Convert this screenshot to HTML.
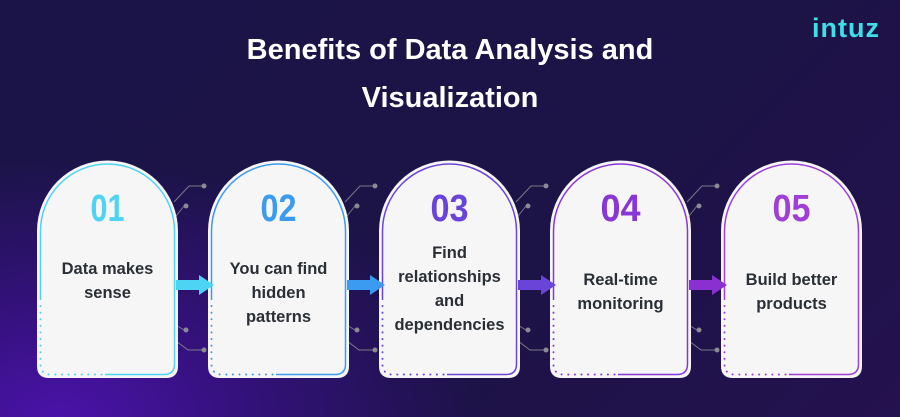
<!DOCTYPE html>
<html><head><meta charset="utf-8"><style>
html,body{margin:0;padding:0;width:900px;height:417px;overflow:hidden}
body{background:radial-gradient(ellipse 420px 260px at 60px 417px,#4a12a8 0%,#33117a 45%,rgba(28,20,72,0) 100%),linear-gradient(135deg,#1b1448 0%,#1c1346 60%,#24114f 100%)}
svg{display:block}
text{font-family:"Liberation Sans",sans-serif}
</style></head><body>
<svg width="900" height="417" viewBox="0 0 900 417">
<text x="450" y="59" fill="#fff" font-size="29" font-weight="bold" text-anchor="middle">Benefits of Data Analysis and</text>
<text x="450" y="107" fill="#fff" font-size="29" font-weight="bold" text-anchor="middle">Visualization</text>
<text x="846" y="37" fill="#3de0e8" font-size="27" text-anchor="middle" letter-spacing="1" font-weight="bold">intuz</text>

<g stroke="#7a7a86" stroke-width="1" fill="none">
<path d="M174 202 L189 186 H204 M176 216 L184 206 M174 324 L184 330 M176 341 L188 350 H204"/>
<path d="M345 202 L360 186 H375 M347 216 L355 206 M345 324 L355 330 M347 341 L359 350 H375"/>
<path d="M516 202 L531 186 H546 M518 216 L526 206 M516 324 L526 330 M518 341 L530 350 H546"/>
<path d="M687 202 L702 186 H717 M689 216 L697 206 M687 324 L697 330 M689 341 L701 350 H717"/>
</g>
<g fill="#8a8a94">
<circle cx="204" cy="186" r="2.5"/><circle cx="186" cy="206" r="2.5"/><circle cx="186" cy="330" r="2.5"/><circle cx="204" cy="350" r="2.5"/>
<circle cx="375" cy="186" r="2.5"/><circle cx="357" cy="206" r="2.5"/><circle cx="357" cy="330" r="2.5"/><circle cx="375" cy="350" r="2.5"/>
<circle cx="546" cy="186" r="2.5"/><circle cx="528" cy="206" r="2.5"/><circle cx="528" cy="330" r="2.5"/><circle cx="546" cy="350" r="2.5"/>
<circle cx="717" cy="186" r="2.5"/><circle cx="699" cy="206" r="2.5"/><circle cx="699" cy="330" r="2.5"/><circle cx="717" cy="350" r="2.5"/>
</g>

<g>
<path d="M37 231 A70.5 70.5 0 0 1 178 231 V366 Q178 378 166 378 H49 Q37 378 37 366 Z" fill="#f6f6f6"/>
<path d="M40.5 300 V231 A67 67 0 0 1 174.5 231 V364 Q174.5 374.5 164 374.5 H105" fill="none" stroke="#4dd4f5" stroke-width="1.5"/>
<path d="M40.5 306 V364 Q40.5 374.5 51 374.5 H104" fill="none" stroke="#4dd4f5" stroke-width="2" stroke-dasharray="0.1 6.5" stroke-linecap="round"/>
<text x="107.5" y="221" fill="#4dd4f5" font-size="38" font-weight="bold" text-anchor="middle" textLength="34" lengthAdjust="spacingAndGlyphs">01</text>
<text fill="#2a2f36" font-size="16.5" font-weight="bold" text-anchor="middle"><tspan x="107.5" y="274">Data makes</tspan><tspan x="107.5" y="298">sense</tspan></text>
</g>
<g>
<path d="M208 231 A70.5 70.5 0 0 1 349 231 V366 Q349 378 337 378 H220 Q208 378 208 366 Z" fill="#f6f6f6"/>
<path d="M211.5 300 V231 A67 67 0 0 1 345.5 231 V364 Q345.5 374.5 335 374.5 H276" fill="none" stroke="#3a9bf0" stroke-width="1.5"/>
<path d="M211.5 306 V364 Q211.5 374.5 222 374.5 H275" fill="none" stroke="#3a9bf0" stroke-width="2" stroke-dasharray="0.1 6.5" stroke-linecap="round"/>
<text x="278.5" y="221" fill="#3a9bf0" font-size="38" font-weight="bold" text-anchor="middle" textLength="36" lengthAdjust="spacingAndGlyphs">02</text>
<text fill="#2a2f36" font-size="16.5" font-weight="bold" text-anchor="middle"><tspan x="278.5" y="274">You can find</tspan><tspan x="278.5" y="298">hidden</tspan><tspan x="278.5" y="322">patterns</tspan></text>
</g>
<g>
<path d="M379 231 A70.5 70.5 0 0 1 520 231 V366 Q520 378 508 378 H391 Q379 378 379 366 Z" fill="#f6f6f6"/>
<path d="M382.5 300 V231 A67 67 0 0 1 516.5 231 V364 Q516.5 374.5 506 374.5 H447" fill="none" stroke="#6a44d8" stroke-width="1.5"/>
<path d="M382.5 306 V364 Q382.5 374.5 393 374.5 H446" fill="none" stroke="#6a44d8" stroke-width="2" stroke-dasharray="0.1 6.5" stroke-linecap="round"/>
<text x="449.5" y="221" fill="#6a44d8" font-size="38" font-weight="bold" text-anchor="middle" textLength="38" lengthAdjust="spacingAndGlyphs">03</text>
<text fill="#2a2f36" font-size="16.5" font-weight="bold" text-anchor="middle"><tspan x="449.5" y="258">Find</tspan><tspan x="449.5" y="282">relationships</tspan><tspan x="449.5" y="306">and</tspan><tspan x="449.5" y="330">dependencies</tspan></text>
</g>
<g>
<path d="M550 231 A70.5 70.5 0 0 1 691 231 V366 Q691 378 679 378 H562 Q550 378 550 366 Z" fill="#f6f6f6"/>
<path d="M553.5 300 V231 A67 67 0 0 1 687.5 231 V364 Q687.5 374.5 677 374.5 H618" fill="none" stroke="#8a35d8" stroke-width="1.5"/>
<path d="M553.5 306 V364 Q553.5 374.5 564 374.5 H617" fill="none" stroke="#8a35d8" stroke-width="2" stroke-dasharray="0.1 6.5" stroke-linecap="round"/>
<text x="620.5" y="221" fill="#8a35d8" font-size="38" font-weight="bold" text-anchor="middle" textLength="40" lengthAdjust="spacingAndGlyphs">04</text>
<text fill="#2a2f36" font-size="16.5" font-weight="bold" text-anchor="middle"><tspan x="620.5" y="285">Real-time</tspan><tspan x="620.5" y="309">monitoring</tspan></text>
</g>
<g>
<path d="M721 231 A70.5 70.5 0 0 1 862 231 V366 Q862 378 850 378 H733 Q721 378 721 366 Z" fill="#f6f6f6"/>
<path d="M724.5 300 V231 A67 67 0 0 1 858.5 231 V364 Q858.5 374.5 848 374.5 H789" fill="none" stroke="#a03fd8" stroke-width="1.5"/>
<path d="M724.5 306 V364 Q724.5 374.5 735 374.5 H788" fill="none" stroke="#a03fd8" stroke-width="2" stroke-dasharray="0.1 6.5" stroke-linecap="round"/>
<text x="791.5" y="221" fill="#a03fd8" font-size="38" font-weight="bold" text-anchor="middle" textLength="38" lengthAdjust="spacingAndGlyphs">05</text>
<text fill="#2a2f36" font-size="16.5" font-weight="bold" text-anchor="middle"><tspan x="791.5" y="285">Build better</tspan><tspan x="791.5" y="309">products</tspan></text>
</g>

<path d="M176 280 H199 V275 L214 285 L199 295 V290 H176 Z" fill="#4dd4f5"/>
<path d="M347 280 H370 V275 L385 285 L370 295 V290 H347 Z" fill="#3a9bf0"/>
<path d="M518 280 H541 V275 L556 285 L541 295 V290 H518 Z" fill="#6a44d8"/>
<path d="M689 280 H712 V275 L727 285 L712 295 V290 H689 Z" fill="#8a2fd0"/>
</svg>
</body></html>
